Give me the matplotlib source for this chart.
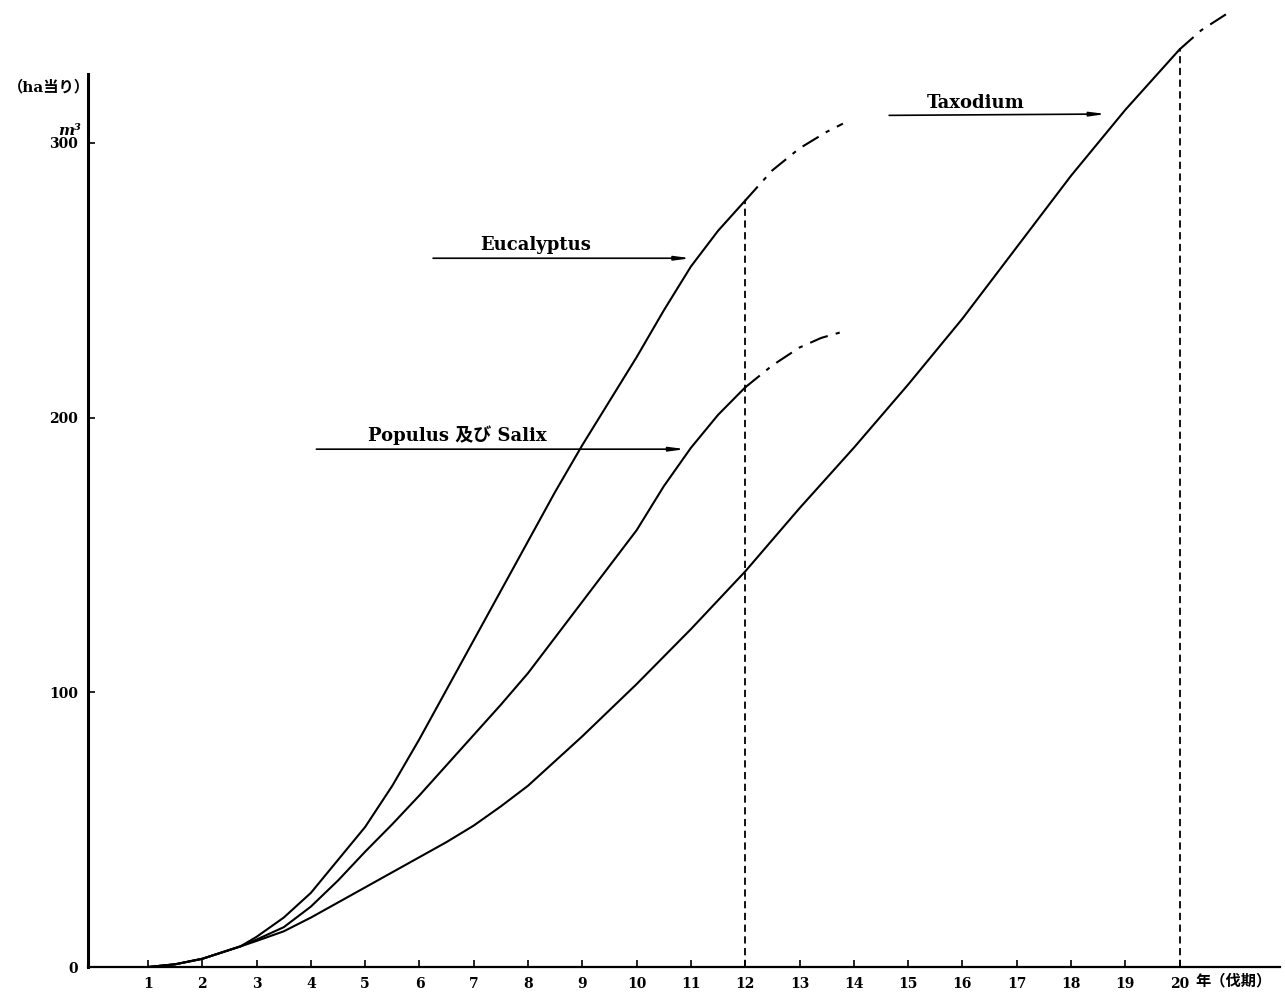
import matplotlib
matplotlib.use('Agg')
import matplotlib.pyplot as plt

plt.rcParams['font.family'] = ['DejaVu Serif', 'Noto Sans CJK JP']
plt.rcParams['font.weight'] = 'bold'

# Eucalyptus (solid part up to year 12, then dash-dot)
euc_x = [1, 1.5, 2, 2.7, 3, 3.5, 4, 4.5, 5, 5.5, 6, 6.5, 7, 7.5, 8, 8.5, 9, 9.5,
         10, 10.5, 11, 11.5, 12]
euc_y = [0, 1, 3, 7.5, 11, 18, 27, 39, 51, 66, 83, 101, 119, 137, 155, 173, 190, 206,
         222, 239, 255, 268, 279]
euc_ext_x = [12, 12.5, 13, 13.5, 13.8]
euc_ext_y = [279, 290, 298, 304, 307]

# Populus & Salix
pop_x = [1, 1.5, 2, 2.7, 3, 3.5, 4, 4.5, 5, 5.5, 6, 6.5, 7, 7.5, 8, 8.5, 9, 9.5,
         10, 10.5, 11, 11.5, 12]
pop_y = [0, 1, 3, 7.5, 10, 14.5, 22, 31.5, 42, 52, 62.5, 73.5, 84.5, 95.5, 107, 120, 133, 146,
         159, 175, 189, 201, 211]
pop_ext_x = [12, 12.5, 13, 13.4, 13.75]
pop_ext_y = [211, 219, 225.5, 229, 231]

# Taxodium
tax_x = [1, 1.5, 2, 2.7, 3, 3.5, 4, 4.5, 5, 5.5, 6, 6.5, 7, 7.5, 8, 9, 10, 11, 12,
         13, 14, 15, 16, 17, 18, 19, 20]
tax_y = [0, 1, 3, 7.5, 9.5, 13, 18, 23.5, 29, 34.5, 40, 45.5, 51.5, 58.5, 66, 84, 103, 123, 144,
         167, 189, 212, 236, 262, 288, 312, 334]
tax_ext_x = [20, 20.4, 20.95]
tax_ext_y = [334, 341, 348]

# rotation ages (vertical dashed lines)
cut_x = [12, 20]
cut_top = [279, 334]

x_ticks = list(range(1, 21))
y_ticks = [0, 100, 200, 300]

# labels: text, text centre, arrow start, arrow end
labels = ['Eucalyptus', 'Populus 及び Salix', 'Taxodium']
label_pos = [(8.13, 263), (6.7, 193.5), (16.25, 314.5)]
arrow_from = [(6.2, 258), (4.05, 188.5), (14.6, 310)]
arrow_to = [(11.05, 258), (10.95, 188.5), (18.7, 310.5)]

fig = plt.figure(figsize=(12.85, 9.99), dpi=100)
ax = fig.add_axes([0.0685, 0.032, 0.9276, 0.968])

lw = 1.5
dashdot = (0, (9, 4, 2, 4))
ax.plot(euc_x, euc_y, color='black', lw=lw, solid_joinstyle='round')
ax.plot(euc_ext_x, euc_ext_y, color='black', lw=lw, linestyle=dashdot)
ax.plot(pop_x, pop_y, color='black', lw=lw, solid_joinstyle='round')
ax.plot(pop_ext_x, pop_ext_y, color='black', lw=lw, linestyle=dashdot)
ax.plot(tax_x, tax_y, color='black', lw=lw, solid_joinstyle='round')
ax.plot(tax_ext_x, tax_ext_y, color='black', lw=lw, linestyle=dashdot)

for cx, ct in zip(cut_x, cut_top):
    ax.plot([cx, cx], [0, ct], color='black', lw=1.3, linestyle=(0, (4, 2.5)))

for txt, pos, a0, a1 in zip(labels, label_pos, arrow_from, arrow_to):
    ax.text(pos[0], pos[1], txt, ha='center', va='center', fontsize=13)
    ax.annotate('', xy=a1, xytext=a0,
                arrowprops=dict(arrowstyle='-|>,head_length=0.9,head_width=0.12',
                                color='black', lw=1.2))

ax.set_xlim(-0.105, 21.85)
ax.set_ylim(0, 352)

for s in ['top', 'right']:
    ax.spines[s].set_visible(False)
ax.spines['left'].set_bounds(0, 325)
ax.spines['left'].set_linewidth(2.2)
ax.spines['bottom'].set_linewidth(1.6)

ax.set_xticks(x_ticks)
ax.set_xticklabels([str(v) for v in x_ticks])
ax.set_yticks(y_ticks)
ax.set_yticklabels([str(v) for v in y_ticks])
ax.tick_params(axis='x', direction='in', length=5, width=1.2, pad=7, labelsize=10)
ax.tick_params(axis='y', direction='in', length=5, width=1.2, pad=7, labelsize=10)

ax.text(20.3, -5.3, '年（伐期）', ha='left', va='center', fontsize=11)
fig.text(0.006, 0.913, '（ha当り）', ha='left', va='center', fontsize=11)
fig.text(0.054, 0.869, 'm³', ha='center', va='center', fontsize=11, style='italic')

fig.savefig('out.png', dpi=100)
